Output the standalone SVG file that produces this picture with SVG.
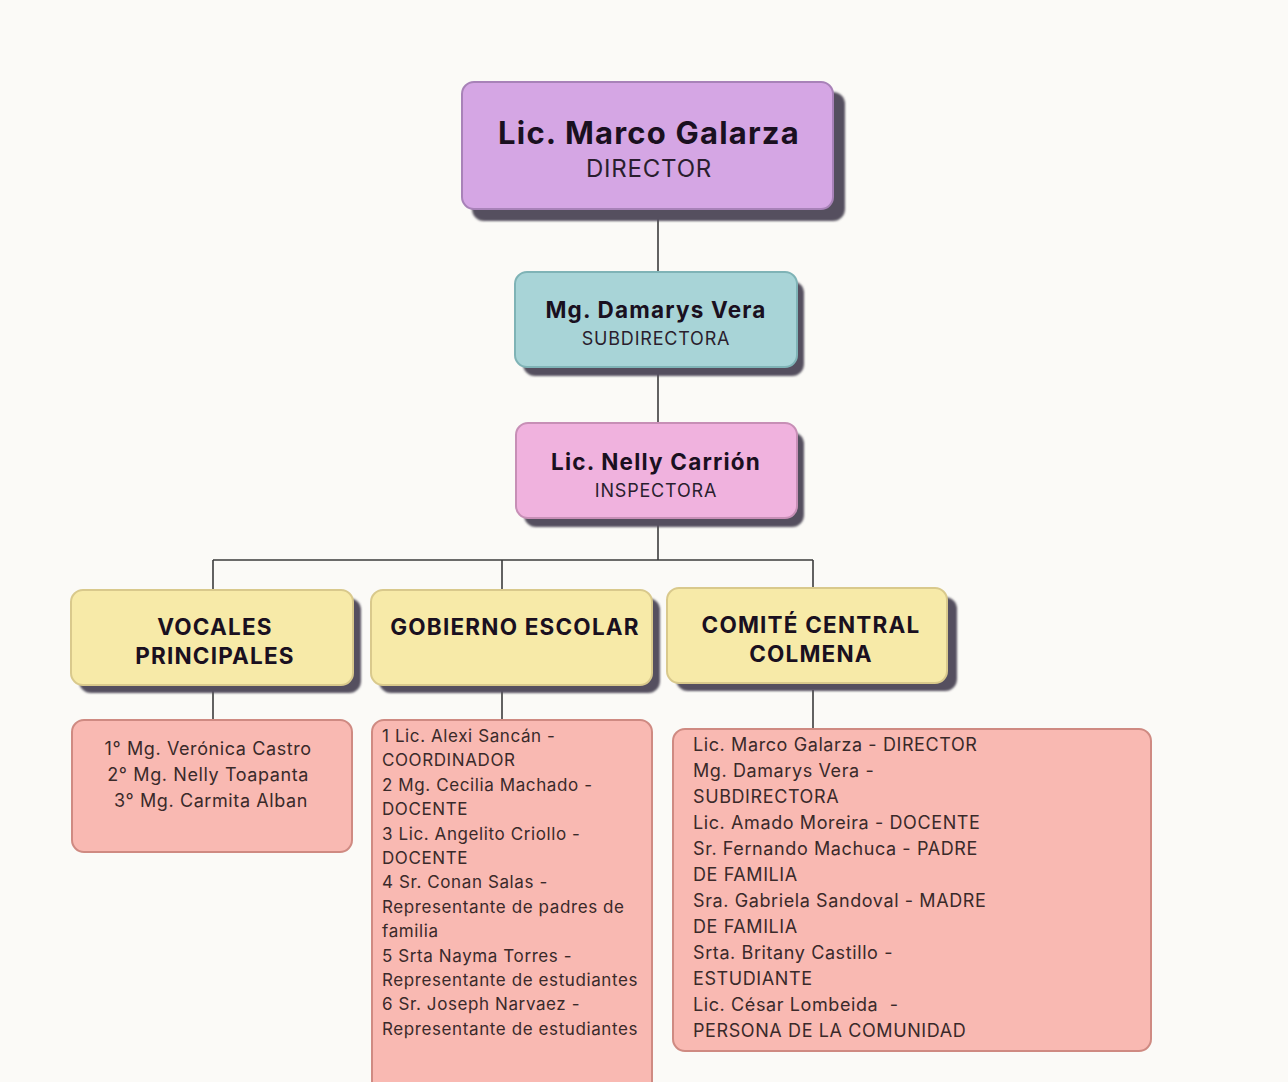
<svg xmlns="http://www.w3.org/2000/svg" width="1288" height="1082" viewBox="0 0 1288 1082">
<defs>
<filter id="blur" x="-10%" y="-10%" width="120%" height="130%"><feGaussianBlur stdDeviation="1.2"/></filter>
</defs>
<style>
.shadow{fill:#54505e;filter:url(#blur)}
.title{font-family:Inter,"Liberation Sans",sans-serif;font-weight:700;fill:#1a1020;text-anchor:middle;letter-spacing:1.2px}
.sub{font-family:Inter,"Liberation Sans",sans-serif;font-weight:400;fill:#2a1e2e;text-anchor:middle;letter-spacing:0.8px}
.list{font-family:Inter,"Liberation Sans",sans-serif;font-weight:400;fill:#3a2a2a;letter-spacing:0.6px}
.conn{stroke:#3c3c3c;stroke-width:1.6;fill:none}
.listbox{fill:#f9b9b2;stroke:#cf8a82;stroke-width:2}
.yellow{fill:#f7eaa8;stroke:#d9c98c;stroke-width:2}
</style>
<rect width="1288" height="1082" fill="#fbfaf7"/>

<g id="connectors">
<path class="conn" d="M658 208V272M658 367V423M658 518V560M213 560H813M213 560V590M502 560V590M813 560V588M213 684V720M502 684V720M813 690V729"/>
</g>

<g id="director">
<rect class="shadow" x="472" y="92" width="373" height="129" rx="12"/>
<rect x="462" y="82" width="371" height="127" rx="12" fill="#d5a6e4" stroke="#a882b8" stroke-width="2"/>
<text class="title" x="649" y="144" font-size="31">Lic. Marco Galarza</text>
<text class="sub" x="649" y="177" font-size="24">DIRECTOR</text>
</g>

<g id="subdirectora">
<rect class="shadow" x="523" y="281" width="281" height="95" rx="12"/>
<rect x="515" y="272" width="282" height="95" rx="12" fill="#a8d4d7" stroke="#7fb3b6" stroke-width="2"/>
<text class="title" x="656" y="318" font-size="22.5">Mg. Damarys Vera</text>
<text class="sub" x="656" y="345" font-size="18">SUBDIRECTORA</text>
</g>

<g id="inspectora">
<rect class="shadow" x="524" y="432" width="280" height="95" rx="12"/>
<rect x="516" y="423" width="281" height="95" rx="12" fill="#f0b2de" stroke="#c78fb6" stroke-width="2"/>
<text class="title" x="656" y="470" font-size="22.5">Lic. Nelly Carrión</text>
<text class="sub" x="656" y="497" font-size="18">INSPECTORA</text>
</g>

<g id="vocales">
<rect class="shadow" x="79" y="598" width="282" height="95" rx="12"/>
<rect class="yellow" x="71" y="590" width="282" height="95" rx="12"/>
<text class="title" x="215" y="635" font-size="22.5">VOCALES</text>
<text class="title" x="215" y="664" font-size="22.5">PRINCIPALES</text>
</g>

<g id="gobierno">
<rect class="shadow" x="379" y="598" width="281" height="95" rx="12"/>
<rect class="yellow" x="371" y="590" width="281" height="95" rx="12"/>
<text class="title" x="515" y="635" font-size="22.5">GOBIERNO ESCOLAR</text>
</g>

<g id="comite">
<rect class="shadow" x="676" y="597" width="281" height="94" rx="12"/>
<rect class="yellow" x="667" y="588" width="280" height="95" rx="12"/>
<text class="title" x="811" y="633" font-size="22.5">COMITÉ CENTRAL</text>
<text class="title" x="811" y="662" font-size="22.5">COLMENA</text>
</g>

<g id="vocales-list">
<rect class="listbox" x="72" y="720" width="280" height="132" rx="12"/>
<text class="list" font-size="18" text-anchor="middle">
<tspan x="211" y="755">1° Mg. Verónica Castro</tspan>
<tspan x="211" y="781">2° Mg. Nelly Toapanta</tspan>
<tspan x="211" y="807">3° Mg. Carmita Alban</tspan>
</text>
</g>

<g id="gobierno-list">
<rect class="listbox" x="372" y="720" width="280" height="380" rx="12"/>
<text class="list" font-size="17">
<tspan x="382" y="742">1 Lic. Alexi Sancán -</tspan>
<tspan x="382" y="766.4">COORDINADOR</tspan>
<tspan x="382" y="790.8">2 Mg. Cecilia Machado -</tspan>
<tspan x="382" y="815.2">DOCENTE</tspan>
<tspan x="382" y="839.6">3 Lic. Angelito Criollo -</tspan>
<tspan x="382" y="864">DOCENTE</tspan>
<tspan x="382" y="888.4">4 Sr. Conan Salas -</tspan>
<tspan x="382" y="912.8">Representante de padres de</tspan>
<tspan x="382" y="937.2">familia</tspan>
<tspan x="382" y="961.6">5 Srta Nayma Torres -</tspan>
<tspan x="382" y="986">Representante de estudiantes</tspan>
<tspan x="382" y="1010.4">6 Sr. Joseph Narvaez -</tspan>
<tspan x="382" y="1034.8">Representante de estudiantes</tspan>
</text>
</g>

<g id="comite-list">
<rect class="listbox" x="673" y="729" width="478" height="322" rx="12"/>
<text class="list" font-size="18">
<tspan x="693" y="751">Lic. Marco Galarza - DIRECTOR</tspan>
<tspan x="693" y="777">Mg. Damarys Vera -</tspan>
<tspan x="693" y="803">SUBDIRECTORA</tspan>
<tspan x="693" y="829">Lic. Amado Moreira - DOCENTE</tspan>
<tspan x="693" y="855">Sr. Fernando Machuca - PADRE</tspan>
<tspan x="693" y="881">DE FAMILIA</tspan>
<tspan x="693" y="907">Sra. Gabriela Sandoval - MADRE</tspan>
<tspan x="693" y="933">DE FAMILIA</tspan>
<tspan x="693" y="959">Srta. Britany Castillo -</tspan>
<tspan x="693" y="985">ESTUDIANTE</tspan>
<tspan x="693" y="1011">Lic. César Lombeida&#160; -</tspan>
<tspan x="693" y="1037">PERSONA DE LA COMUNIDAD</tspan>
</text>
</g>
</svg>
